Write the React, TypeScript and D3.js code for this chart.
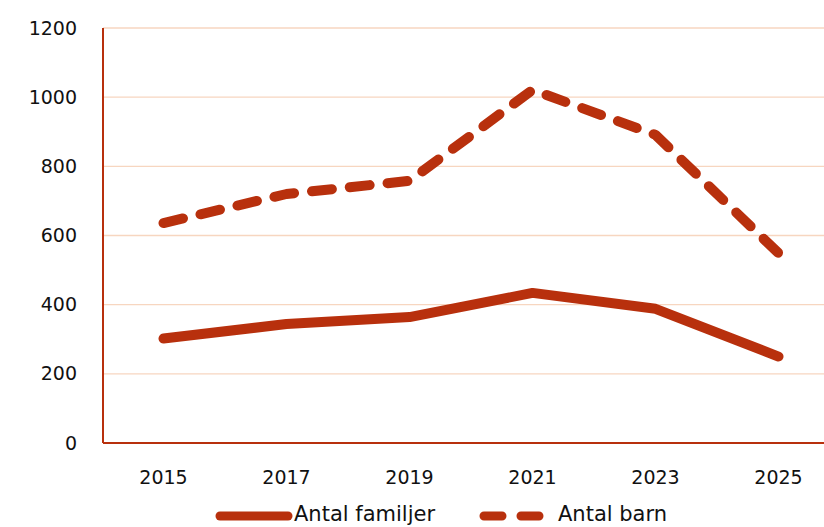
import React from 'react'
import * as d3 from 'd3'

const years = ['2015', '2017', '2019', '2021', '2023', '2025']
const familjer = [302, 344, 364, 434, 388, 250]
const barn = [636, 720, 758, 1021, 891, 549]
const yTicks = [0, 200, 400, 600, 800, 1000, 1200]

const RED = '#B8300D'
const GRID = '#F7D6C0'
const FONT = '"DejaVu Sans", sans-serif'

const App = () => {
    const width = 824
    const height = 527
    const left = 103
    const top = 28
    const bottom = 443

    const x = d3.scaleBand<string>()
        .domain(years)
        .range([left, left + 6 * 123])

    const y = d3.scaleLinear()
        .domain([0, 1200])
        .range([bottom, top])

    const line = d3.line<number>()
        .x((d, i) => (x(years[i]) as number) + x.bandwidth() / 2 - 1)
        .y(d => y(d))

    return (
        <svg width={width} height={height} style={{ position: 'absolute', left: 0, top: 0 }}>
            {yTicks.filter(t => t > 0).map(t => (
                <line key={t} x1={left} x2={width} y1={y(t)} y2={y(t)} stroke={GRID} strokeWidth={1.3} />
            ))}
            <line x1={left} x2={left} y1={top} y2={bottom} stroke={RED} strokeWidth={2} />
            <line x1={left} x2={width} y1={bottom} y2={bottom} stroke={RED} strokeWidth={2} />
            {yTicks.map(t => (
                <text key={t} x={77} y={y(t)} dy="0.35em" textAnchor="end" fontFamily={FONT} fontSize={19} fill="#111">{t}</text>
            ))}
            {years.map(yr => (
                <text key={yr} x={(x(yr) as number) + x.bandwidth() / 2 - 1} y={477} dy="0.35em" textAnchor="middle" fontFamily={FONT} fontSize={19} fill="#111">{yr}</text>
            ))}
            <path d={line(familjer) || ''} fill="none" stroke={RED} strokeWidth={10} strokeLinecap="round" strokeLinejoin="round" />
            <path d={line(barn) || ''} fill="none" stroke={RED} strokeWidth={10} strokeLinecap="round" strokeLinejoin="round" strokeDasharray="20 18" />

            {/* legend */}
            <line x1={220} x2={288} y1={516} y2={516} stroke={RED} strokeWidth={9} strokeLinecap="round" />
            <text x={294} y={514} dy="0.35em" fontFamily={FONT} fontSize={21} fill="#111">Antal familjer</text>
            <line x1={484} x2={540} y1={516} y2={516} stroke={RED} strokeWidth={9} strokeLinecap="round" strokeDasharray="18 19" />
            <text x={558} y={514} dy="0.35em" fontFamily={FONT} fontSize={21} fill="#111">Antal barn</text>
        </svg>
    )
}

export default App
